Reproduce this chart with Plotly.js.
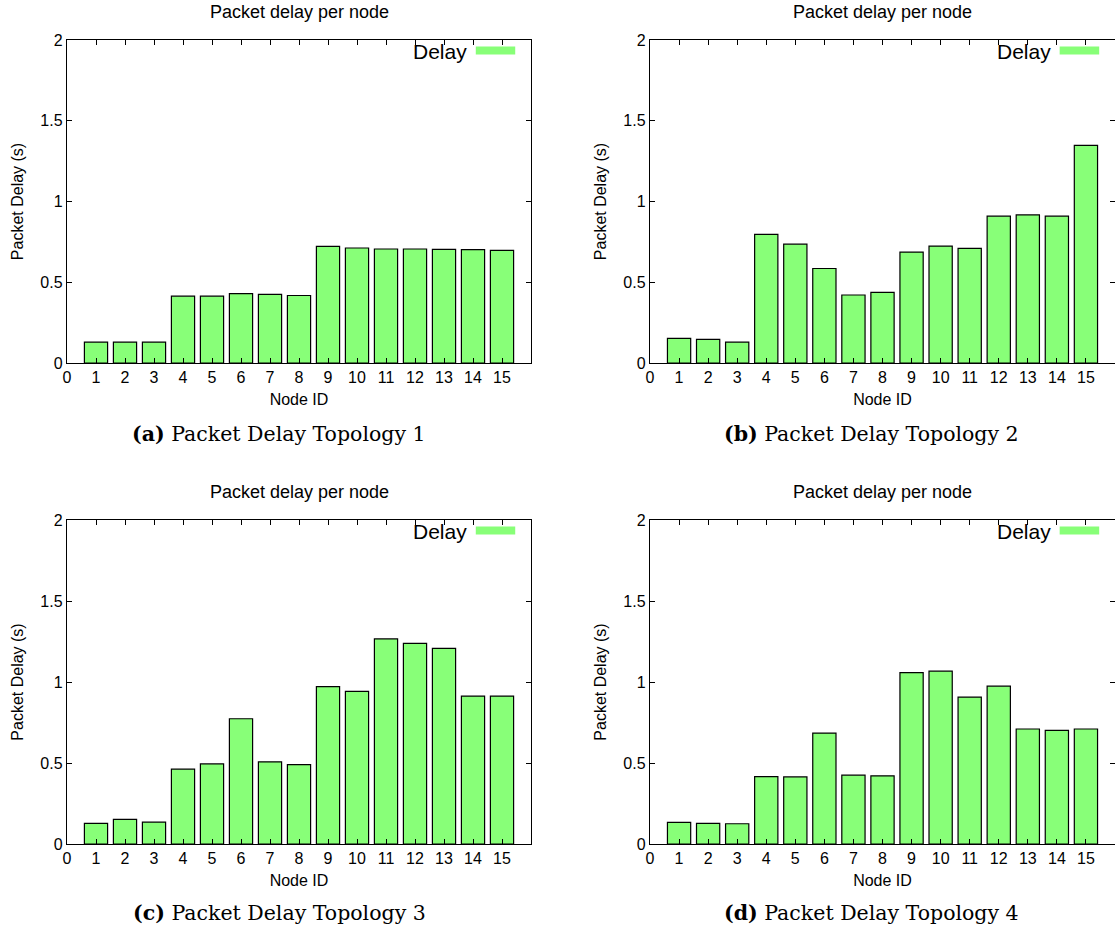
<!DOCTYPE html>
<html>
<head>
<meta charset="utf-8">
<script src="https://cdn.plot.ly/plotly-3.0.1.min.js"></script>
<style>html,body{margin:0;padding:0;background:#fff;}#chart{width:1115px;height:932px;}</style>
</head>
<body>
<div id="chart"></div>
<script>
// ---- data ----
const nodeIds = [1,2,3,4,5,6,7,8,9,10,11,12,13,14,15];
const delayTopology1 = [0.129,0.129,0.129,0.414,0.414,0.429,0.425,0.418,0.722,0.712,0.706,0.706,0.704,0.702,0.697];
const delayTopology2 = [0.152,0.146,0.129,0.796,0.736,0.585,0.421,0.437,0.687,0.724,0.710,0.909,0.917,0.909,1.348];
const delayTopology3 = [0.127,0.152,0.135,0.462,0.494,0.773,0.507,0.490,0.972,0.942,1.266,1.239,1.208,0.913,0.913];
const delayTopology4 = [0.133,0.127,0.125,0.416,0.414,0.685,0.425,0.421,1.058,1.067,0.907,0.974,0.710,0.701,0.710];
const xTickVals = [0,1,2,3,4,5,6,7,8,9,10,11,12,13,14,15];
const xTickText = ["0","1","2","3","4","5","6","7","8","9","10","11","12","13","14","15"];
const chartTitle = "Packet delay per node";
const xTitle = "Node ID";
const yTitle = "Packet Delay (s)";
const legendLabel = "Delay";
const captions = [
  "<b>(a)</b> Packet Delay Topology 1",
  "<b>(b)</b> Packet Delay Topology 2",
  "<b>(c)</b> Packet Delay Topology 3",
  "<b>(d)</b> Packet Delay Topology 4"
];
const series = [delayTopology1, delayTopology2, delayTopology3, delayTopology4];

// ---- layout geometry (pixels) ----
const W = 1115, H = 932;
const panels = [
  {l:67,  r:531,  t:40,  b:363, capX:279, capY:434},
  {l:650, r:1115, t:40,  b:363, capX:871, capY:434},
  {l:67,  r:531,  t:520, b:844, capX:279, capY:913},
  {l:650, r:1115, t:520, b:844, capX:871, capY:913}
];
const GREEN = '#88ff78';
const FONT = 'Liberation Sans, Arial, sans-serif';

const data = [];
const layout = {
  width: W, height: H,
  margin: {l:0, r:0, t:0, b:0},
  paper_bgcolor: '#fff', plot_bgcolor: '#fff',
  showlegend: false,
  font: {family: FONT, color: '#000', size: 16},
  annotations: [], shapes: []
};

panels.forEach((p, i) => {
  const n = i === 0 ? '' : String(i + 1);
  const xa = 'x' + n, ya = 'y' + n;
  data.push({
    type: 'bar', x: nodeIds, y: series[i], width: 0.8,
    xaxis: xa, yaxis: ya, name: legendLabel,
    marker: {color: GREEN, line: {color: '#000', width: 1.2}},
    hoverinfo: 'x+y'
  });
  const common = {
    showline: true, linecolor: '#000', linewidth: 1.2, mirror: 'ticks',
    ticks: 'inside', ticklen: 5, tickcolor: '#000', tickwidth: 1,
    showgrid: false, zeroline: false, fixedrange: true,
    tickfont: {family: FONT, size: 16, color: '#000'}
  };
  layout['xaxis' + n] = Object.assign({}, common, {
    domain: [p.l / W, Math.min(1, p.r / W)], anchor: ya,
    range: [0, 16], tickmode: 'array', tickvals: xTickVals, ticktext: xTickText,
    title: {text: xTitle, font: {family: FONT, size: 16, color: '#000'}, standoff: 8}
  });
  layout['yaxis' + n] = Object.assign({}, common, {
    domain: [(H - p.b) / H, (H - p.t) / H], anchor: xa,
    range: [0, 2], tickmode: 'linear', tick0: 0, dtick: 0.5,
    title: {text: yTitle, font: {family: FONT, size: 16, color: '#000'}, standoff: 12}
  });
  // panel title
  layout.annotations.push({
    text: chartTitle, xref: 'paper', yref: 'paper',
    x: ((p.l + p.r) / 2) / W, y: (H - (p.t - 28)) / H,
    xanchor: 'center', yanchor: 'middle', showarrow: false,
    font: {family: FONT, size: 18, color: '#000'}
  });
  // caption
  layout.annotations.push({
    text: captions[i], xref: 'paper', yref: 'paper',
    x: p.capX / W, y: (H - p.capY) / H,
    xanchor: 'center', yanchor: 'middle', showarrow: false,
    font: {family: 'DejaVu Serif, Liberation Serif, serif', size: 20.5, color: '#000'}
  });
  // legend (text left of swatch, gnuplot style)
  layout.annotations.push({
    text: legendLabel, xref: xa + ' domain', yref: ya + ' domain',
    x: 0.866, y: 0.965, xanchor: 'right', yanchor: 'middle', showarrow: false,
    font: {family: FONT, size: 21, color: '#000'}
  });
  layout.shapes.push({
    type: 'rect', xref: xa + ' domain', yref: ya + ' domain',
    x0: 0.881, x1: 0.966, y0: 0.955, y1: 0.980,
    fillcolor: GREEN, line: {width: 0}
  });
});

Plotly.newPlot('chart', data, layout, {displayModeBar: false, staticPlot: true});
</script>
</body>
</html>
